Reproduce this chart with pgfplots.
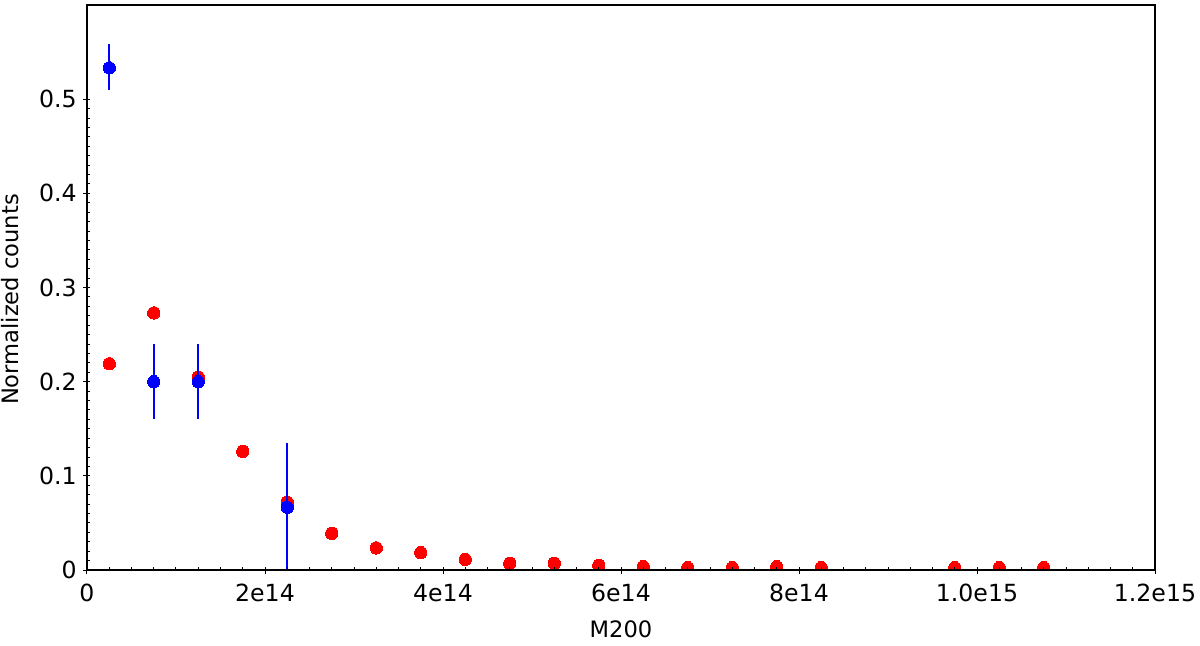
\documentclass[border=0pt]{standalone}
\usepackage{fontspec}
\setmainfont{DejaVu Sans}
\usepackage{pgfplots}
\pgfplotsset{compat=1.18}
\usepackage{pgfplotstable}

% red: all clusters, blue: selected sample (with errors)
\pgfplotstableread{
x y
2.5e13 0.219
7.5e13 0.273
1.25e14 0.205
1.75e14 0.126
2.25e14 0.072
2.75e14 0.039
3.25e14 0.0235
3.75e14 0.0185
4.25e14 0.0112
4.75e14 0.0072
5.25e14 0.0072
5.75e14 0.0050
6.25e14 0.0035
6.75e14 0.0025
7.25e14 0.0025
7.75e14 0.0035
8.25e14 0.0025
9.75e14 0.0025
1.025e15 0.0025
1.075e15 0.0025
}\redtab

\pgfplotstableread{
x y ep em
2.5e13 0.5333 0.025 0.024
7.5e13 0.2 0.04 0.04
1.25e14 0.2 0.04 0.04
2.25e14 0.0667 0.0683 0.0667
}\bluetab

\begin{document}
\begin{tikzpicture}
\begin{axis}[
  scale only axis,
  width=534pt, height=282.5pt,
  xmin=0, xmax=1.2e15,
  ymin=0, ymax=0.6,
  scaled ticks=false,
  xtick={0,2e14,4e14,6e14,8e14,1e15,1.2e15},
  xticklabels={0,2e14,4e14,6e14,8e14,1.0e15,1.2e15},
  ytick={0,0.1,0.2,0.3,0.4,0.5},
  yticklabels={0,0.1,0.2,0.3,0.4,0.5},
  minor x tick num=7,
  minor y tick num=9,
  tick pos=left,
  tick align=inside,
  major tick length=3.5pt,
  minor tick length=1.5pt,
  major x tick style={yshift=-1.75pt},
  major y tick style={xshift=-1.75pt},
  tick style={black, line width=0.5pt},
  axis line style={line width=0.75pt},
  axis on top,
  clip marker paths=true,
  tick label style={font=\fontsize{11.8}{14}\selectfont},
  label style={font=\fontsize{11.3}{14}\selectfont},
  xticklabel style={anchor=base, yshift=-15.75pt},
  yticklabel style={anchor=east, inner xsep=0pt, xshift=-5pt},
  xlabel={M200},
  ylabel={Normalized counts},
  xlabel style={at={([yshift=-33.75pt]axis description cs:0.5,0)}, anchor=base},
  ylabel style={at={([xshift=-34pt,yshift=-6pt]axis description cs:0,0.5)}, anchor=base},
]
\addplot[red, only marks, mark=*, mark size=3.1pt, mark options={draw=red, fill=red, line width=0pt}]
  table[x=x, y=y] {\redtab};
\addplot[blue, only marks, mark=*, mark size=3.1pt, mark options={draw=blue, fill=blue, line width=0pt},
  error bars/.cd, y dir=both, y explicit,
  error mark=none, error bar style={draw=blue, color=blue, line width=0.8pt}]
  table[x=x, y=y, y error plus=ep, y error minus=em] {\bluetab};
\end{axis}
\pgfresetboundingbox
\path (-43.5pt,-37.5pt) rectangle (556.5pt,285pt);
\end{tikzpicture}
\end{document}
